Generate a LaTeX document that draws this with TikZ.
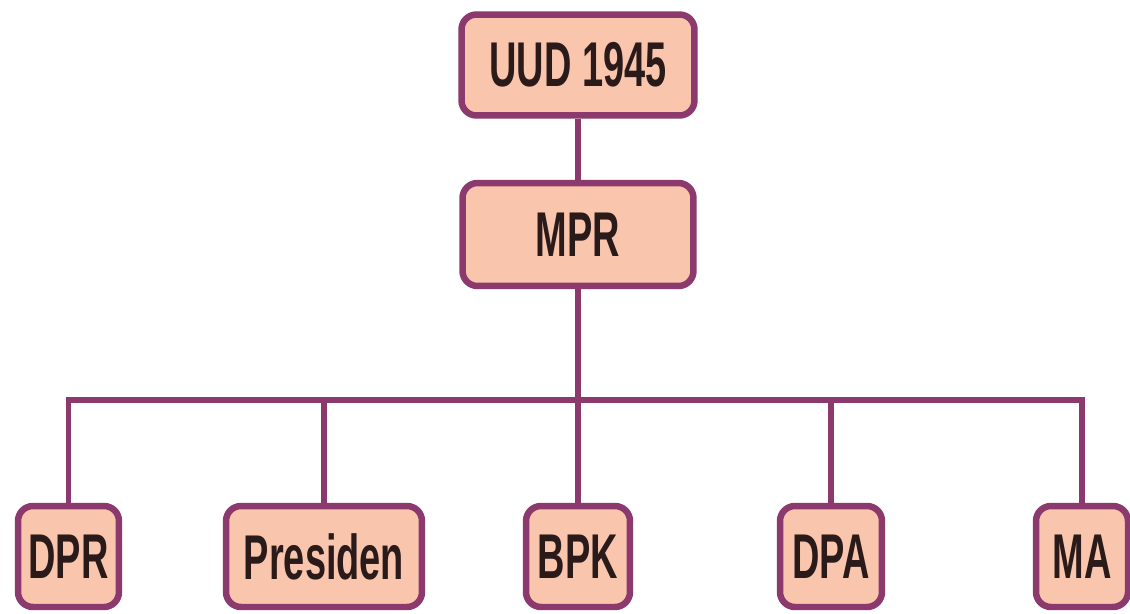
\documentclass[tikz,border=0pt]{standalone}
\usepackage{fontspec}
\setsansfont{Liberation Sans}[FakeStretch=0.6]

\definecolor{boxfill}{HTML}{F9C6AD}
\definecolor{boxline}{HTML}{8C3A6E}
\definecolor{boxtext}{HTML}{2A1A1A}

\begin{document}
\begin{tikzpicture}[x=0.02cm,y=-0.02cm]

      \useasboundingbox[fill=white] (0,0) rectangle (1130,613);

      % Nodes
      \begin{scope}[every node/.style={rectangle,rounded corners=0.3cm,draw=boxline,fill=boxfill,
          line width=0.13cm,inner sep=0pt,minimum height=2.02cm,text=boxtext,
          font=\sffamily\bfseries\fontsize{36}{40}\selectfont}]
        \node[minimum width=4.66cm] (uud) at (578,65) {UUD 1945};
        \node[minimum width=4.62cm,minimum height=2.06cm] (mpr) at (578,234.5) {MPR};

        \node[minimum width=2.02cm] (dpr) at (68.5,556.5) {DPR};
        \node[minimum width=3.92cm] (presiden) at (324,556.5) {Presiden};
        \node[minimum width=2.08cm] (bpk) at (578,556.5) {BPK};
        \node[minimum width=2.04cm] (dpa) at (831,556.5) {DPA};
        \node[minimum width=1.84cm] (ma) at (1082,556.5) {MA};
      \end{scope}

      \coordinate (bar) at (578,400);

      % Edges
      \begin{scope}[every path/.style={draw=boxline,line width=0.12cm}]
        \path (uud) -- (mpr);
        \path (mpr) -- (bar);

        \path (bar) -| (dpr);
        \path (bar) -| (presiden);
        \path (bar) -- (bpk);
        \path (bar) -| (dpa);
        \path (bar) -| (ma);
      \end{scope}

    \end{tikzpicture}
\end{document}
